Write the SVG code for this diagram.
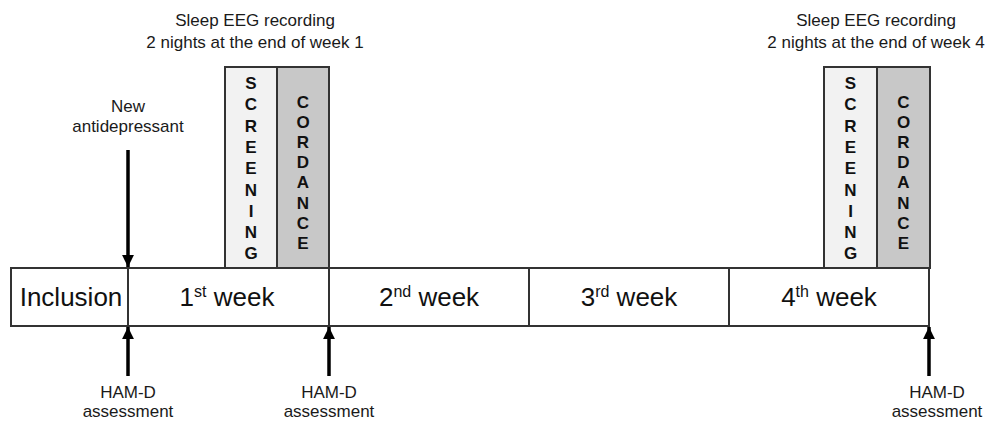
<svg xmlns="http://www.w3.org/2000/svg" width="990" height="425" viewBox="0 0 990 425">
  <style>
    .lbl { font-family: "Liberation Sans", Arial, sans-serif; font-size: 17px; fill: #1a1a1a; text-anchor: middle; }
    .wk { font-family: "Liberation Sans", Arial, sans-serif; font-size: 26px; fill: #111; text-anchor: middle; }
    .sup { font-size: 16px; }
    .vert { font-family: "Liberation Sans", Arial, sans-serif; font-size: 17px; font-weight: bold; fill: #111; text-anchor: middle; }
    .cell { fill: #fff; stroke: #333; stroke-width: 2; }
    .scr { fill: #f2f2f2; stroke: #333; stroke-width: 2; }
    .cor { fill: #c8c8c8; stroke: #333; stroke-width: 2; }
    .arrow { stroke: #000; stroke-width: 3.5; fill: none; }
  </style>
  <defs>
    <marker id="head" viewBox="0 0 10 10" refX="10" refY="5" markerWidth="3.4" markerHeight="3.4" orient="auto" markerUnits="strokeWidth">
      <path d="M0,0 L10,5 L0,10 Z" fill="#000"/>
    </marker>
  </defs>
  <rect width="990" height="425" fill="#fff"/>

  <!-- EEG recording blocks, week 1 -->
  <g id="eeg-week1">
    <text class="lbl" x="255" y="26">Sleep EEG recording</text>
    <text class="lbl" x="255" y="48">2 nights at the end of week 1</text>
    <rect class="scr" x="225" y="67" width="52" height="201"/>
    <rect class="cor" x="277" y="67" width="52" height="201"/>
    <text class="vert" x="251">
      <tspan x="251" y="89">S</tspan><tspan x="251" y="110.3">C</tspan><tspan x="251" y="131.6">R</tspan><tspan x="251" y="152.9">E</tspan><tspan x="251" y="174.2">E</tspan><tspan x="251" y="195.5">N</tspan><tspan x="251" y="216.8">I</tspan><tspan x="251" y="238.1">N</tspan><tspan x="251" y="259.4">G</tspan>
    </text>
    <text class="vert" x="303">
      <tspan x="303" y="108">C</tspan><tspan x="303" y="128.1">O</tspan><tspan x="303" y="148.2">R</tspan><tspan x="303" y="168.3">D</tspan><tspan x="303" y="188.4">A</tspan><tspan x="303" y="208.5">N</tspan><tspan x="303" y="228.6">C</tspan><tspan x="303" y="248.7">E</tspan>
    </text>
  </g>

  <!-- EEG recording blocks, week 4 -->
  <g id="eeg-week4">
    <text class="lbl" x="876" y="26">Sleep EEG recording</text>
    <text class="lbl" x="876" y="48">2 nights at the end of week 4</text>
    <rect class="scr" x="824" y="67" width="53" height="201"/>
    <rect class="cor" x="877" y="67" width="53" height="201"/>
    <text class="vert" x="850.5">
      <tspan x="850.5" y="89">S</tspan><tspan x="850.5" y="110.3">C</tspan><tspan x="850.5" y="131.6">R</tspan><tspan x="850.5" y="152.9">E</tspan><tspan x="850.5" y="174.2">E</tspan><tspan x="850.5" y="195.5">N</tspan><tspan x="850.5" y="216.8">I</tspan><tspan x="850.5" y="238.1">N</tspan><tspan x="850.5" y="259.4">G</tspan>
    </text>
    <text class="vert" x="903.5">
      <tspan x="903.5" y="108">C</tspan><tspan x="903.5" y="128.1">O</tspan><tspan x="903.5" y="148.2">R</tspan><tspan x="903.5" y="168.3">D</tspan><tspan x="903.5" y="188.4">A</tspan><tspan x="903.5" y="208.5">N</tspan><tspan x="903.5" y="228.6">C</tspan><tspan x="903.5" y="248.7">E</tspan>
    </text>
  </g>

  <!-- Timeline cells -->
  <g id="inclusion">
    <rect class="cell" x="11" y="268" width="117" height="58"/>
    <text class="wk" x="71" y="306">Inclusion</text>
  </g>
  <g id="week1">
    <rect class="cell" x="128" y="268" width="201" height="58"/>
    <text class="wk" x="227" y="306">1<tspan class="sup" dy="-9">st</tspan><tspan dy="9"> week</tspan></text>
  </g>
  <g id="week2">
    <rect class="cell" x="329" y="268" width="200" height="58"/>
    <text class="wk" x="429" y="306">2<tspan class="sup" dy="-9">nd</tspan><tspan dy="9"> week</tspan></text>
  </g>
  <g id="week3">
    <rect class="cell" x="529" y="268" width="200" height="58"/>
    <text class="wk" x="629" y="306">3<tspan class="sup" dy="-9">rd</tspan><tspan dy="9"> week</tspan></text>
  </g>
  <g id="week4">
    <rect class="cell" x="729" y="268" width="200" height="58"/>
    <text class="wk" x="829" y="306">4<tspan class="sup" dy="-9">th</tspan><tspan dy="9"> week</tspan></text>
  </g>

  <!-- Event labels -->
  <g id="new-antidepressant">
    <text class="lbl" x="128" y="112">New</text>
    <text class="lbl" x="128" y="132">antidepressant</text>
  </g>
  <g id="hamd-1">
    <text class="lbl" x="128" y="398">HAM-D</text>
    <text class="lbl" x="128" y="417">assessment</text>
  </g>
  <g id="hamd-2">
    <text class="lbl" x="329" y="398">HAM-D</text>
    <text class="lbl" x="329" y="417">assessment</text>
  </g>
  <g id="hamd-3">
    <text class="lbl" x="937" y="398">HAM-D</text>
    <text class="lbl" x="937" y="417">assessment</text>
  </g>

  <!-- Connectors -->
  <g id="connectors">
    <line class="arrow" x1="128" y1="150" x2="128" y2="267" marker-end="url(#head)"/>
    <line class="arrow" x1="128" y1="376" x2="128" y2="327" marker-end="url(#head)"/>
    <line class="arrow" x1="329" y1="376" x2="329" y2="327" marker-end="url(#head)"/>
    <line class="arrow" x1="929" y1="376" x2="929" y2="327" marker-end="url(#head)"/>
  </g>
</svg>
